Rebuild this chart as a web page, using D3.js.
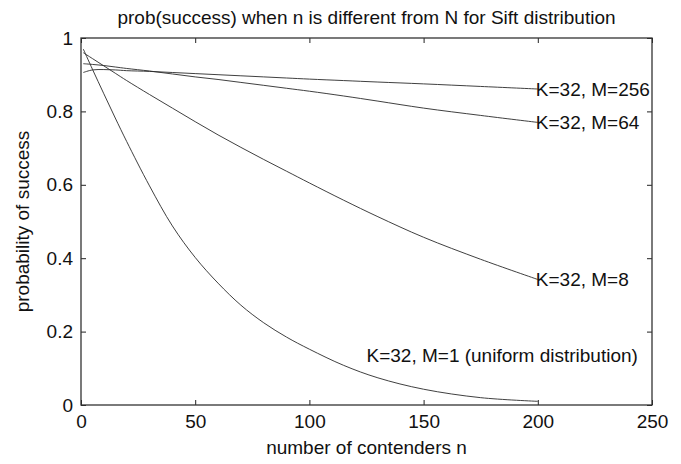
<!DOCTYPE html>
<html>
<head>
<meta charset="utf-8">
<script src="https://cdn.jsdelivr.net/npm/d3@7"></script>
<style>
  body { margin: 0; background: #fff; }
  #chart { width: 681px; height: 464px; }
  text { font-family: "Liberation Sans", Arial, Helvetica, sans-serif; fill: #111; }
</style>
</head>
<body>
<div id="chart"></div>
<script>
// number of contenders n (shared by all curves)
const contenders = [1, 5, 10, 15, 20, 30, 40, 50, 60, 70, 80, 90, 100, 115, 130, 150, 175, 200];

const probM1 = [0.97, 0.915, 0.848, 0.782, 0.718, 0.597, 0.488, 0.402, 0.332, 0.272, 0.224, 0.185, 0.152, 0.108, 0.074, 0.043, 0.02, 0.01];
const probM8 = [0.96, 0.944, 0.924, 0.904, 0.884, 0.846, 0.809, 0.772, 0.736, 0.702, 0.669, 0.637, 0.605, 0.558, 0.513, 0.457, 0.397, 0.342];
const probM64 = [0.93, 0.928, 0.925, 0.921, 0.917, 0.91, 0.902, 0.894, 0.887, 0.879, 0.871, 0.863, 0.855, 0.842, 0.828, 0.809, 0.789, 0.77];
const probM256 = [0.906, 0.913, 0.914, 0.913, 0.911, 0.909, 0.906, 0.903, 0.9, 0.897, 0.894, 0.891, 0.888, 0.884, 0.88, 0.875, 0.868, 0.861];

const seriesNames = ["K=32, M=1 (uniform distribution)", "K=32, M=8", "K=32, M=64", "K=32, M=256"];

const xTicks = [0, 50, 100, 150, 200, 250];
const xTickLabels = ["0", "50", "100", "150", "200", "250"];
const yTicks = [0, 0.2, 0.4, 0.6, 0.8, 1];
const yTickLabels = ["0", "0.2", "0.4", "0.6", "0.8", "1"];

const titleText = "prob(success) when n is different from N for Sift distribution";
const xTitle = "number of contenders n";
const yTitle = "probability of success";

class SuccessChart {
  constructor(el) {
    this.el = el;
    this.wrangleData();
  }

  wrangleData() {
    const all = [probM1, probM8, probM64, probM256];
    this.displayData = all.map((vals, i) => ({
      name: seriesNames[i],
      values: vals.map((v, j) => ({ n: contenders[j], p: v })),
    }));
    this.initChart();
  }

  initChart() {
    const width = 681;
    const height = 464;
    const margin = { left: 81, right: 29, top: 38, bottom: 59 };
    const innerWidth = width - margin.left - margin.right;
    const innerHeight = height - margin.top - margin.bottom;

    const svg = d3.select(`#${this.el}`)
      .append("svg")
      .attr("width", width)
      .attr("height", height);

    const g = svg.append("g")
      .attr("transform", `translate(${margin.left},${margin.top})`);

    const xScale = d3.scaleLinear().domain([0, 250]).range([0, innerWidth]);
    const yScale = d3.scaleLinear().domain([0, 1]).range([innerHeight, 0]);

    const fontSize = 19;

    // bottom axis with labels, ticks pointing in
    const xAxis = d3.axisBottom(xScale)
      .tickValues(xTicks)
      .tickFormat((d, i) => xTickLabels[i])
      .tickSizeInner(-5)
      .tickSizeOuter(0)
      .tickPadding(10);
    g.append("g")
      .attr("class", "x-axis")
      .attr("transform", `translate(0,${innerHeight})`)
      .call(xAxis);

    // top axis, ticks only
    g.append("g")
      .attr("class", "x-axis-top")
      .call(d3.axisTop(xScale).tickValues(xTicks).tickFormat("").tickSizeInner(-5).tickSizeOuter(0));

    const yAxis = d3.axisLeft(yScale)
      .tickValues(yTicks)
      .tickFormat((d, i) => yTickLabels[i])
      .tickSizeInner(-5)
      .tickSizeOuter(0)
      .tickPadding(8);
    g.append("g").attr("class", "y-axis").call(yAxis);

    g.append("g")
      .attr("class", "y-axis-right")
      .attr("transform", `translate(${innerWidth},0)`)
      .call(d3.axisRight(yScale).tickValues(yTicks).tickFormat("").tickSizeInner(-5).tickSizeOuter(0));

    g.selectAll(".domain").remove();
    g.selectAll(".tick line").attr("stroke", "#222").attr("stroke-width", 1);
    g.selectAll(".tick text")
      .attr("font-size", fontSize)
      .style("font-family", "'Liberation Sans', Arial, sans-serif")
      .attr("fill", "#111");

    // frame
    g.append("rect")
      .attr("width", innerWidth)
      .attr("height", innerHeight)
      .attr("fill", "none")
      .attr("stroke", "#333")
      .attr("stroke-width", 1.3);

    const line = d3.line()
      .x((d) => xScale(d.n))
      .y((d) => yScale(d.p))
      .curve(d3.curveCatmullRom.alpha(0.5));

    g.selectAll(".curve")
      .data(this.displayData)
      .join("path")
      .attr("class", "curve")
      .attr("d", (d) => line(d.values))
      .attr("fill", "none")
      .attr("stroke", "#2a2a2a")
      .attr("stroke-width", 0.9);

    // labels at the end of each curve (except the uniform one, placed under its curve)
    g.selectAll(".end-label")
      .data(this.displayData.slice(1))
      .join("text")
      .attr("class", "end-label")
      .attr("x", (d) => xScale(d.values[d.values.length - 1].n) - 2)
      .attr("y", (d) => yScale(d.values[d.values.length - 1].p))
      .attr("dy", "0.36em")
      .attr("font-size", fontSize)
      .text((d) => d.name);

    g.append("text")
      .attr("x", xScale(125))
      .attr("y", yScale(0.117))
      .attr("font-size", fontSize)
      .text(this.displayData[0].name);

    svg.append("text")
      .attr("x", margin.left + innerWidth / 2)
      .attr("y", 24)
      .attr("text-anchor", "middle")
      .attr("font-size", fontSize)
      .text(titleText);

    svg.append("text")
      .attr("x", margin.left + innerWidth / 2)
      .attr("y", 454)
      .attr("text-anchor", "middle")
      .attr("font-size", fontSize)
      .text(xTitle);

    svg.append("text")
      .attr("transform", `translate(29,${margin.top + innerHeight / 2}) rotate(-90)`)
      .attr("text-anchor", "middle")
      .attr("font-size", fontSize)
      .text(yTitle);
  }
}

new SuccessChart("chart");
</script>
</body>
</html>
